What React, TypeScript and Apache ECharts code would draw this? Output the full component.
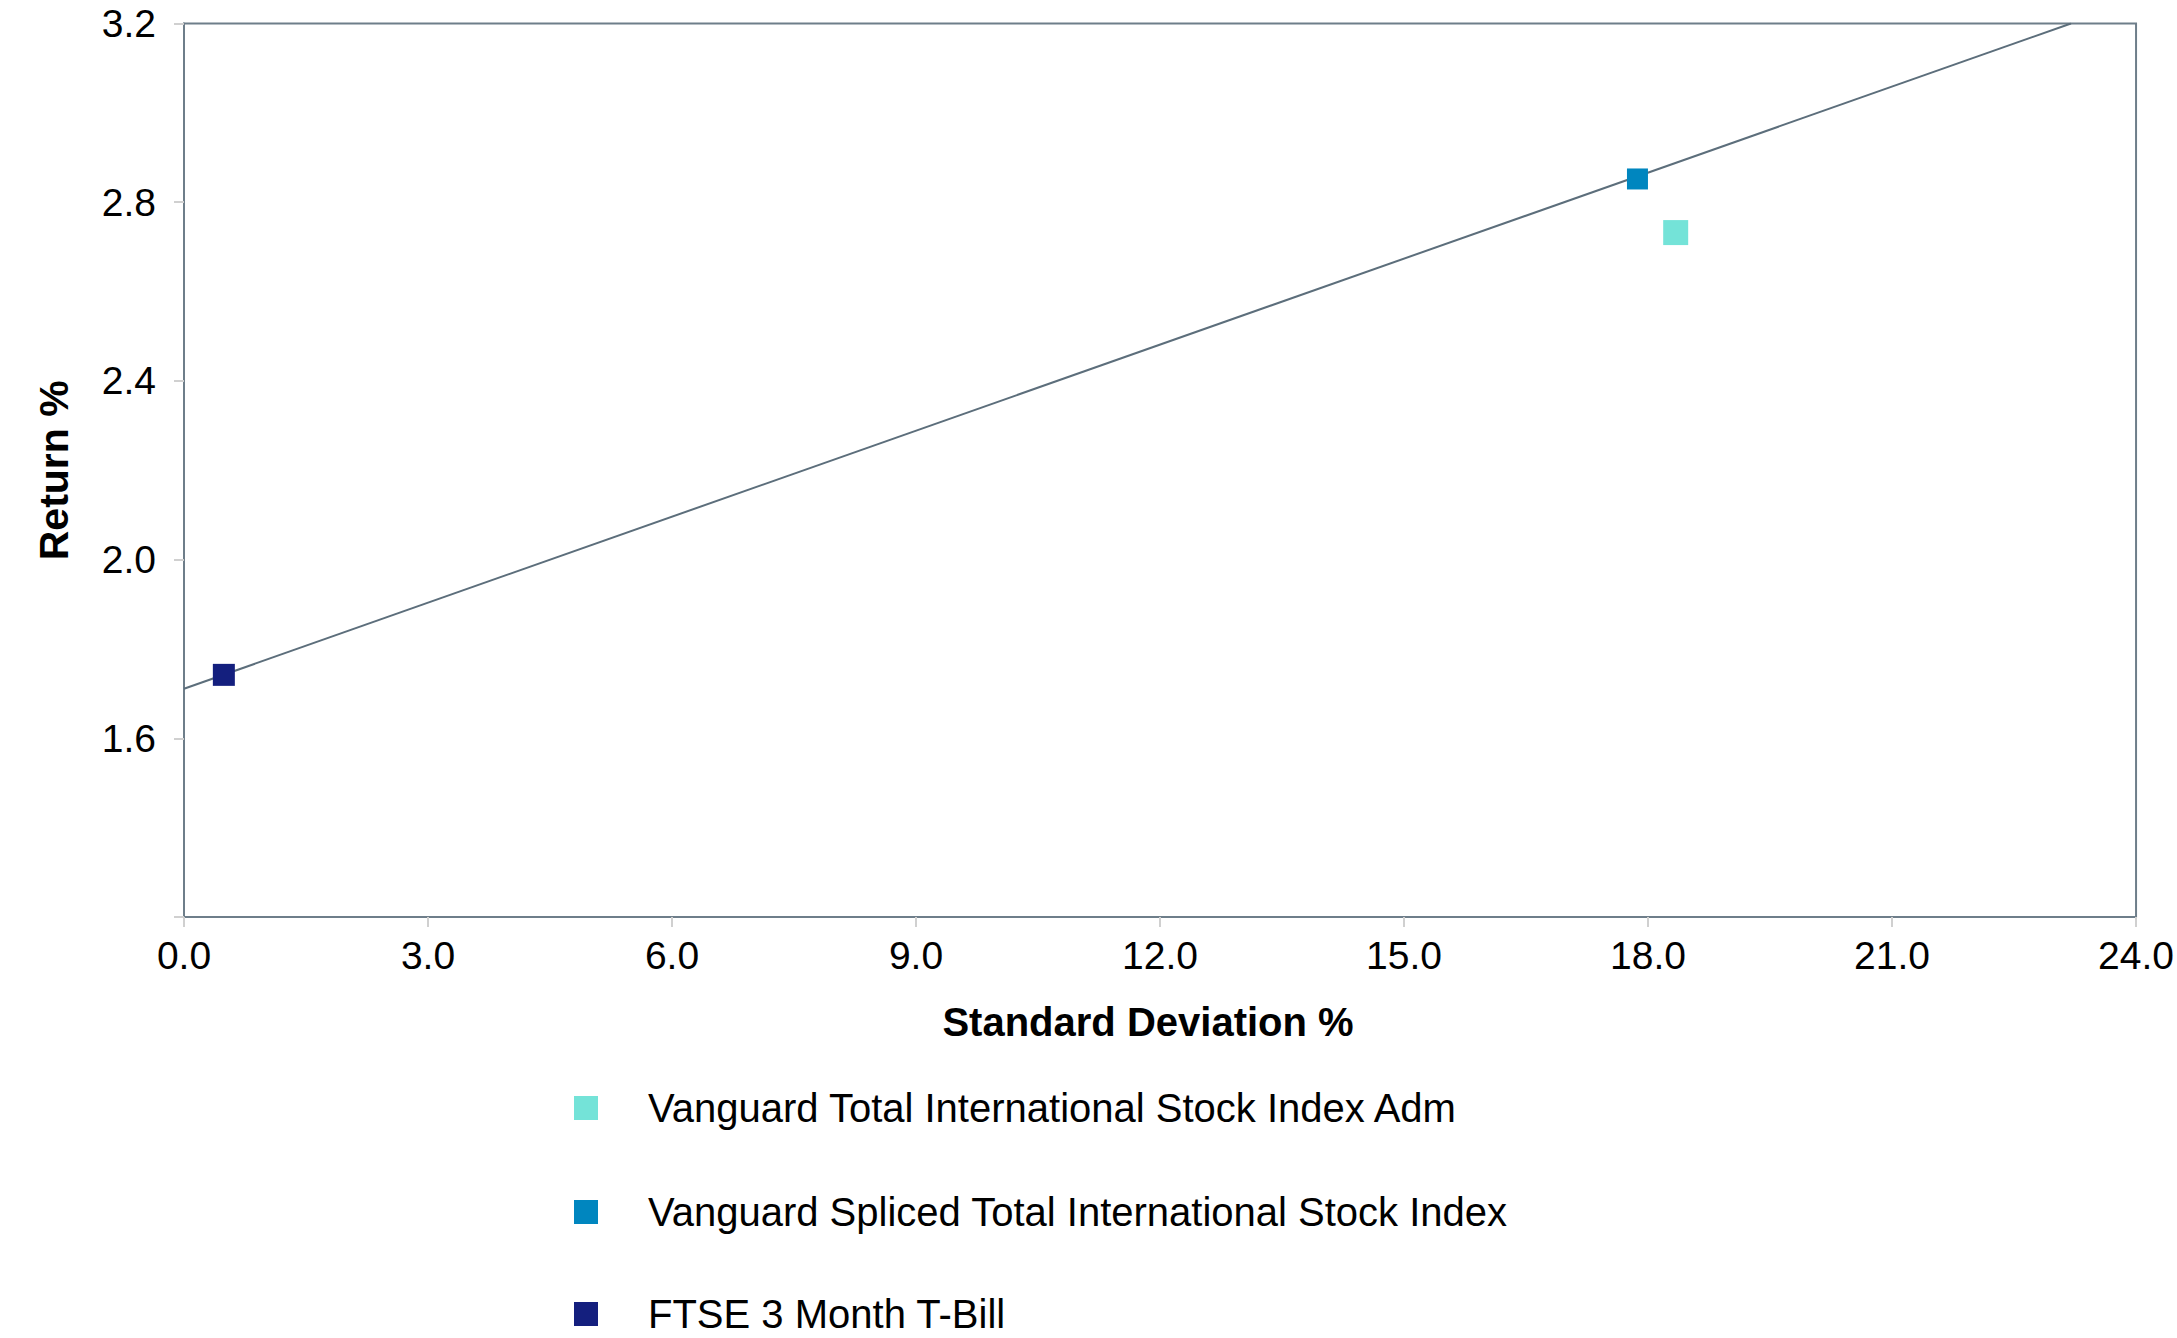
import React, { useEffect, useRef } from "react";
import * as echarts from "echarts";

const seriesNames = [
  "Vanguard Total International Stock Index Adm",
  "Vanguard Spliced Total International Stock Index",
  "FTSE 3 Month T-Bill",
];
const stdDev = [18.34, 17.87, 0.49];
const returns = [2.732, 2.852, 1.742];
const seriesColors = ["#74E3D8", "#0086BF", "#141F7E"];
const symbolSizes = [25, 21, 22];
const marketLine = [
  [0, 1.711],
  [23.2, 3.2],
];
const xTicks = [0, 3, 6, 9, 12, 15, 18, 21, 24];
const yTicks = [1.2, 1.6, 2.0, 2.4, 2.8, 3.2];

const FONT = "Liberation Sans, Arial, Helvetica, sans-serif";
const legendTops = [1088, 1192, 1294];

export default function App() {
  const ref = useRef<HTMLDivElement>(null);
  useEffect(() => {
    if (!ref.current) return;
    const chart = echarts.init(ref.current, undefined, { renderer: "svg" });
    const scatterSeries = seriesNames.map((name, i) => ({
      name,
      type: "scatter",
      symbol: "rect",
      symbolSize: symbolSizes[i],
      itemStyle: { color: seriesColors[i], opacity: 1 },
      data: [[stdDev[i], returns[i]]],
      z: 3,
    }));
    const legends = seriesNames.map((name, i) => ({
      orient: "vertical",
      left: 574,
      top: legendTops[i],
      padding: 0,
      itemWidth: 24,
      itemHeight: 24,
      icon: "rect",
      data: [name],
      selectedMode: false,
      itemStyle: { opacity: 1 },
      textStyle: {
        fontFamily: FONT,
        fontSize: 40,
        color: "#000",
        padding: [0, 0, 0, 45],
      },
    }));
    chart.setOption({
      animation: false,
      backgroundColor: "#ffffff",
      textStyle: { fontFamily: FONT },
      grid: {
        left: 184,
        right: 37,
        top: 23.5,
        bottom: 421,
        show: true,
        borderColor: "#6E7E8A",
        borderWidth: 2,
        backgroundColor: "transparent",
      },
      legend: legends,
      xAxis: {
        type: "value",
        min: xTicks[0],
        max: xTicks[xTicks.length - 1],
        interval: 3,
        name: "Standard Deviation %",
        nameLocation: "middle",
        nameGap: 85,
        nameTextStyle: {
          fontFamily: FONT,
          fontSize: 40,
          fontWeight: "bold",
          color: "#000",
          padding: [0, 24, 0, 0],
        },
        axisLine: { show: true, lineStyle: { color: "#6E7E8A", width: 2 } },
        axisTick: { show: true, length: 10, lineStyle: { color: "#D0D0D0", width: 2 } },
        splitLine: { show: false },
        axisLabel: {
          fontFamily: FONT,
          fontSize: 39,
          color: "#000",
          margin: 19,
          formatter: (v: number) => v.toFixed(1),
        },
      },
      yAxis: {
        type: "value",
        min: yTicks[0],
        max: yTicks[yTicks.length - 1],
        interval: 0.4,
        name: "Return %",
        nameLocation: "middle",
        nameRotate: 90,
        nameGap: 110,
        nameTextStyle: {
          fontFamily: FONT,
          fontSize: 41,
          fontWeight: "bold",
          color: "#000",
        },
        axisLine: { show: true, lineStyle: { color: "#6E7E8A", width: 2 } },
        axisTick: { show: true, length: 10, lineStyle: { color: "#D0D0D0", width: 2 } },
        splitLine: { show: false },
        axisLabel: {
          fontFamily: FONT,
          fontSize: 39,
          color: "#000",
          margin: 28,
          formatter: (v: number) => (Math.abs(v - yTicks[0]) < 1e-9 ? "" : v.toFixed(1)),
        },
      },
      series: [
        {
          name: "Capital Market Line",
          type: "line",
          data: marketLine,
          showSymbol: false,
          symbol: "none",
          lineStyle: { color: "#5C6E7B", width: 2 },
          z: 2,
        },
        ...scatterSeries,
      ],
    });
    return () => chart.dispose();
  }, []);
  return (
    <div
      ref={ref}
      style={{ position: "fixed", left: 0, top: 0, width: 2177, height: 1338 }}
    />
  );
}
